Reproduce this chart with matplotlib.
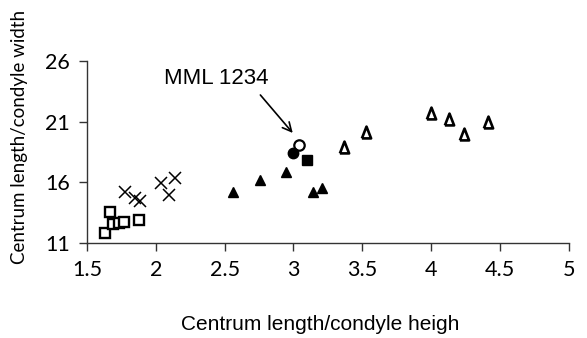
import matplotlib
matplotlib.use("Agg")
import matplotlib.pyplot as plt

# Data
sq_x = [1.63, 1.67, 1.69, 1.73, 1.77, 1.88]
sq_y = [11.8, 13.56, 12.57, 12.65, 12.73, 12.9]

cr_x = [1.78, 1.85, 1.885, 2.04, 2.10, 2.14]
cr_y = [15.2, 14.7, 14.46, 15.95, 14.96, 16.36]

ft_x = [2.56, 2.755, 2.944, 3.14, 3.205]
ft_y = [15.2, 16.19, 16.85, 15.2, 15.53]

ot_x = [3.37, 3.53, 4.00, 4.13, 4.24, 4.41]
ot_y = [18.9, 20.15, 21.7, 21.2, 19.99, 20.98]

oc_x = [3.04]
oc_y = [19.08]
fc_x = [2.995]
fc_y = [18.42]
fs_x = [3.10]
fs_y = [17.84]

x_ticks = [1.5, 2, 2.5, 3, 3.5, 4, 4.5, 5]
x_tick_labels = ["1.5", "2", "2.5", "3", "3.5", "4", "4.5", "5"]
y_ticks = [11, 16, 21, 26]

fig = plt.figure(figsize=(5.87, 3.38), dpi=100)
ax = fig.add_axes([0.148, 0.281, 0.821, 0.5385])

tri_open = [(-0.78, -1), (0.78, -1), (0, 1), (-0.78, -1)]

ax.plot(sq_x, sq_y, 's', ms=7, mfc='white', mec='black', mew=1.7, ls='none')
ax.plot(cr_x, cr_y, 'x', ms=8.5, mec='black', mew=1.1, ls='none')
ax.plot(ft_x, ft_y, '^', ms=7.5, mfc='black', mec='black', ls='none')
ax.plot(ot_x, ot_y, marker=tri_open, ms=8.5, mfc='white', mec='black', mew=1.9, ls='none')
ax.plot(oc_x, oc_y, 'o', ms=7.5, mfc='white', mec='black', mew=1.6, ls='none')
ax.plot(fc_x, fc_y, 'o', ms=7.5, mfc='black', mec='black', ls='none')
ax.plot(fs_x, fs_y, 's', ms=7.5, mfc='black', mec='black', ls='none')

ax.text(2.44, 24.55, "MML 1234", fontsize=16, family="Liberation Sans",
        ha='center', va='center')
ax.annotate("", xy=(2.995, 20.07), xytext=(2.76, 23.2),
            arrowprops=dict(arrowstyle='->', color='black', lw=1.2,
                            shrinkA=0, shrinkB=0, mutation_scale=16))

ax.set_xlim(1.5, 5)
ax.set_ylim(11, 26)
ax.set_xticks(x_ticks)
ax.set_xticklabels(x_tick_labels)
ax.set_yticks(y_ticks)
for lab in ax.get_xticklabels() + ax.get_yticklabels():
    lab.set_family("Lato")
    lab.set_fontsize(15.5)
ax.spines['top'].set_visible(False)
ax.spines['right'].set_visible(False)
for s in ['left', 'bottom']:
    ax.spines[s].set_color('#333333')
    ax.spines[s].set_linewidth(1.0)
ax.tick_params(axis='both', direction='out', length=6, width=1.0, color='#333333', pad=6)

ax.set_xlabel("Centrum length/condyle heigh", fontsize=15, family="Liberation Sans")
ax.xaxis.set_label_coords(0.485, -0.395)
ax.set_ylabel("Centrum length/condyle width", fontsize=13.5, family="Lato")
ax.yaxis.set_label_coords(-0.122, 0.585)

fig.savefig("out.png", dpi=100)
